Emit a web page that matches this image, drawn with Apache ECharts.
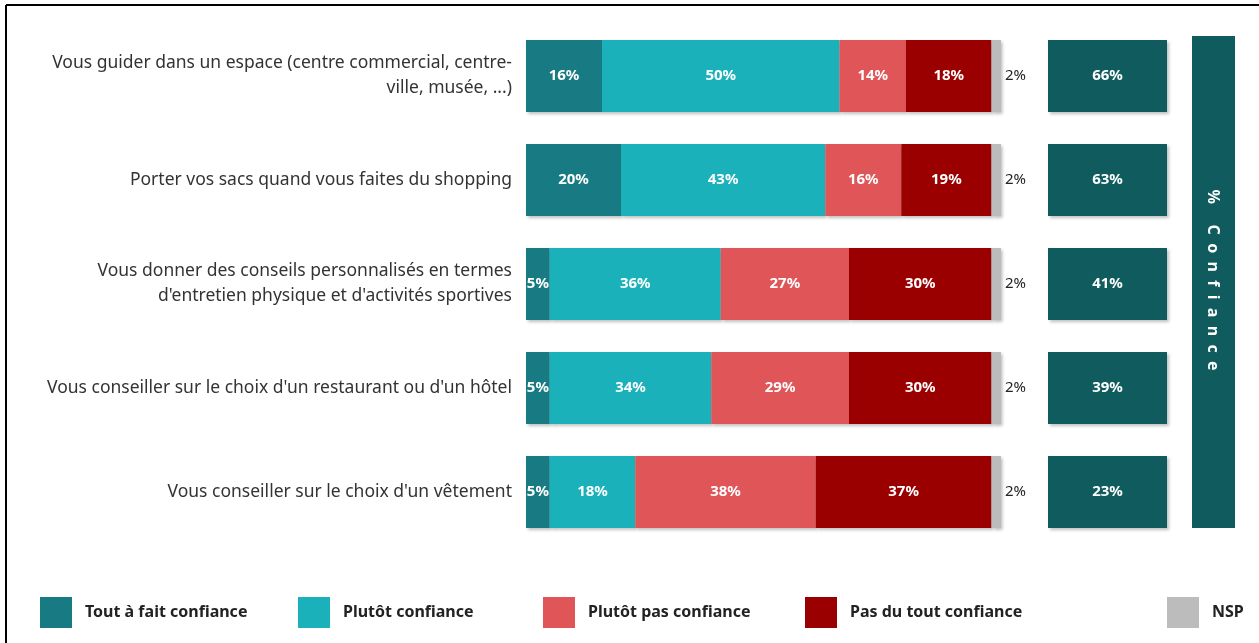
<!DOCTYPE html>
<html>
<head>
<meta charset="utf-8">
<script src="https://cdn.jsdelivr.net/npm/echarts@6/dist/echarts.min.js"></script>
<style>
  html, body { margin: 0; padding: 0; background: #fff; }
  #chart { width: 1259px; height: 643px; }
</style>
</head>
<body>
<div id="chart"></div>
<script>
  // questions (top to bottom)
  var categories = [
    'Vous guider dans un espace (centre commercial, centre-\nville, musée, ...)',
    'Porter vos sacs quand vous faites du shopping',
    'Vous donner des conseils personnalisés en termes\nd\'entretien physique et d\'activités sportives',
    'Vous conseiller sur le choix d\'un restaurant ou d\'un hôtel',
    'Vous conseiller sur le choix d\'un vêtement'
  ];
  var seriesNames = ['Tout à fait confiance', 'Plutôt confiance', 'Plutôt pas confiance', 'Pas du tout confiance', 'NSP'];
  var toutAFait = [16, 20, 5, 5, 5];
  var plutot = [50, 43, 36, 34, 18];
  var plutotPas = [14, 16, 27, 29, 38];
  var pasDuTout = [18, 19, 30, 30, 37];
  var nsp = [2, 2, 2, 2, 2];
  var confiance = [66, 63, 41, 39, 23];

  var colors = ['#187b83', '#1bb1bb', '#df5558', '#9b0000', '#bcbcbc'];
  var font = '"Noto Sans", "Open Sans", sans-serif';

  var chart = echarts.init(document.getElementById('chart'));

  var shadow = {
    shadowBlur: 3,
    shadowColor: 'rgba(0,0,0,0.25)',
    shadowOffsetX: 2,
    shadowOffsetY: 2
  };

  function stackSeries(i, data) {
    var isNsp = i === 4;
    return {
      name: seriesNames[i],
      type: 'bar',
      stack: 'total',
      barWidth: 72,
      data: data,
      itemStyle: Object.assign({color: colors[i]}, shadow),
      label: {
        show: true,
        position: isNsp ? 'right' : 'inside',
        distance: isNsp ? 4 : 0,
        formatter: '{c}%',
        color: isNsp ? '#222' : '#fff',
        fontWeight: isNsp ? 'normal' : 'bold',
        fontSize: 15,
        fontFamily: font
      }
    };
  }

  // legend: one block per item, spaced as in the picture
  var legendLefts = [35, 293, 538, 800, 1162];
  var legends = seriesNames.map(function (name, i) {
    return {
      data: [name],
      left: legendLefts[i],
      top: 592,
      icon: 'rect',
      itemWidth: 32,
      itemHeight: 31,
      selectedMode: false,
      textStyle: {
        color: '#222',
        fontWeight: 'bold',
        fontSize: 16,
        fontFamily: font,
        padding: [0, 0, 0, 8]
      }
    };
  });

  var option = {
    animation: false,
    backgroundColor: '#fff',
    legend: legends,
    grid: [
      {left: 526, width: 475, top: 24, height: 520},
      {left: 1048, width: 119, top: 24, height: 520}
    ],
    xAxis: [
      {type: 'value', gridIndex: 0, min: 0, max: 100, show: false},
      {type: 'value', gridIndex: 1, min: 0, max: 1, show: false}
    ],
    yAxis: [
      {
        type: 'category',
        gridIndex: 0,
        data: categories,
        inverse: true,
        axisLine: {show: false},
        axisTick: {show: false},
        axisLabel: {
          margin: 14,
          color: '#333',
          fontSize: 17.5,
          lineHeight: 25,
          fontFamily: font,
          align: 'right'
        }
      },
      {
        type: 'category',
        gridIndex: 1,
        data: categories,
        inverse: true,
        show: false
      }
    ],
    series: [
      stackSeries(0, toutAFait),
      stackSeries(1, plutot),
      stackSeries(2, plutotPas),
      stackSeries(3, pasDuTout),
      stackSeries(4, nsp),
      {
        name: '% Confiance',
        type: 'scatter',
        xAxisIndex: 1,
        yAxisIndex: 1,
        symbol: 'rect',
        symbolSize: [119, 72],
        itemStyle: Object.assign({color: '#0f5b5d', opacity: 1}, shadow),
        data: confiance.map(function (v, i) { return [0.5, i, v]; }),
        label: {
          show: true,
          position: 'inside',
          formatter: function (p) { return p.value[2] + '%'; },
          color: '#fff',
          fontWeight: 'bold',
          fontSize: 15,
          fontFamily: font
        }
      }
    ],
    graphic: [
      {
        type: 'rect',
        shape: {x: 1192, y: 36, width: 43, height: 492},
        style: {fill: '#0f5b5d'}
      },
      {
        type: 'text',
        x: 1213,
        y: 280,
        rotation: -Math.PI / 2,
        style: {
          text: '%     C  o  n  f  i  a  n  c  e',
          fill: '#fff',
          font: 'bold 16px ' + font,
          align: 'center',
          verticalAlign: 'middle'
        }
      },
      {
        type: 'line',
        shape: {x1: 6, y1: 5, x2: 1259, y2: 5},
        style: {stroke: '#000', lineWidth: 2}
      },
      {
        type: 'line',
        shape: {x1: 6, y1: 5, x2: 6, y2: 643},
        style: {stroke: '#000', lineWidth: 2}
      }
    ]
  };

  chart.setOption(option);
</script>
</body>
</html>
